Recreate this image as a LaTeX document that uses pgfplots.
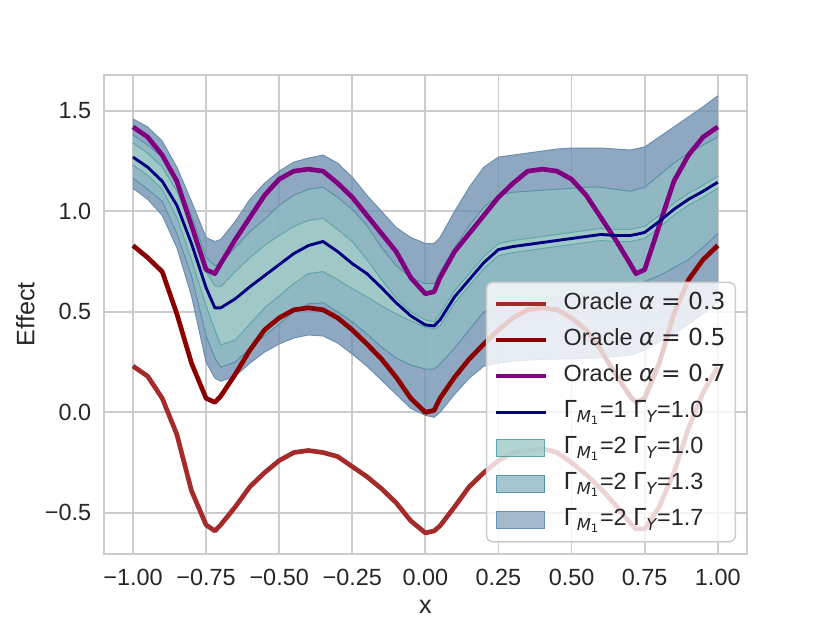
\documentclass[border=0pt]{standalone}
\usepackage{fontspec}
\setmainfont{Liberation Sans}
\newfontfamily\dejavu{DejaVu Sans}
\usepackage{pgfplots}
\usepackage{pgfplotstable}
\pgfplotsset{compat=1.18}
\usepgfplotslibrary{fillbetween}

\definecolor{o3c}{HTML}{A52A2A}
\definecolor{o5c}{HTML}{8B0000}
\definecolor{o7c}{HTML}{800080}
\definecolor{muc}{HTML}{000080}
\definecolor{gridc}{HTML}{CCCCCC}
\definecolor{txt}{HTML}{262626}
\definecolor{outf}{HTML}{7392B2}
\definecolor{midf}{HTML}{90BDC5}
\definecolor{innf}{HTML}{A4CDC9}
\definecolor{outl}{HTML}{8FA8C1}
\definecolor{midl}{HTML}{90B9C4}
\definecolor{innl}{HTML}{A0C9C8}
\definecolor{oute}{HTML}{6A8FB2}
\definecolor{mide}{HTML}{5792A8}
\definecolor{inne}{HTML}{5FA6AA}

\pgfplotsset{
  lineleg/.style={legend image code/.code={\draw[##1] (0pt,0pt) -- (27.5pt,0pt);}},
  patchleg/.style={legend image code/.code={\draw[##1, sharp corners] (0pt,-4.7pt) rectangle (27pt,4.7pt);}},
}

\pgfplotstableread{
x o3 o5 o7 mu
-1.00 0.23 0.83 1.42 1.27
-0.95 0.18 0.77 1.37 1.22
-0.90 0.07 0.70 1.28 1.15
-0.85 -0.11 0.49 1.15 1.03
-0.80 -0.39 0.245 0.93 0.84
-0.75 -0.56 0.07 0.71 0.62
-0.72 -0.59 0.05 0.69 0.52
-0.70 -0.56 0.08 0.74 0.52
-0.65 -0.47 0.19 0.86 0.565
-0.60 -0.37 0.31 0.97 0.625
-0.55 -0.30 0.41 1.08 0.68
-0.50 -0.24 0.47 1.16 0.735
-0.45 -0.20 0.51 1.20 0.79
-0.40 -0.19 0.52 1.21 0.83
-0.35 -0.20 0.51 1.20 0.85
-0.30 -0.22 0.47 1.14 0.80
-0.25 -0.27 0.41 1.07 0.74
-0.20 -0.32 0.34 0.98 0.69
-0.15 -0.38 0.265 0.89 0.62
-0.10 -0.45 0.175 0.80 0.545
-0.05 -0.54 0.07 0.67 0.48
0.00 -0.60 0.00 0.59 0.435
0.03 -0.59 0.01 0.60 0.43
0.05 -0.565 0.07 0.67 0.46
0.10 -0.47 0.175 0.80 0.575
0.15 -0.37 0.265 0.89 0.66
0.20 -0.30 0.34 0.98 0.745
0.25 -0.24 0.41 1.07 0.81
0.30 -0.20 0.47 1.14 0.825
0.35 -0.19 0.51 1.20 0.835
0.40 -0.18 0.52 1.21 0.845
0.45 -0.20 0.51 1.20 0.855
0.50 -0.25 0.47 1.16 0.865
0.55 -0.31 0.41 1.08 0.875
0.60 -0.38 0.31 0.97 0.885
0.65 -0.46 0.19 0.86 0.88
0.70 -0.55 0.08 0.74 0.88
0.72 -0.58 0.05 0.69 0.885
0.75 -0.58 0.07 0.71 0.895
0.80 -0.47 0.245 0.93 0.95
0.85 -0.30 0.49 1.15 1.01
0.90 -0.08 0.66 1.28 1.06
0.95 0.10 0.76 1.37 1.10
1.00 0.225 0.83 1.42 1.145
}\oracle

\pgfplotstableread{
x ol ml il ih mh oh
-1.00 1.115 1.165 1.23 1.34 1.38 1.46
-0.95 1.06 1.11 1.18 1.29 1.33 1.42
-0.90 0.98 1.05 1.11 1.22 1.27 1.35
-0.85 0.82 0.89 0.97 1.10 1.14 1.22
-0.80 0.58 0.68 0.76 0.925 0.98 1.05
-0.75 0.25 0.38 0.53 0.70 0.77 0.87
-0.72 0.17 0.27 0.41 0.63 0.73 0.85
-0.70 0.155 0.225 0.335 0.625 0.74 0.86
-0.65 0.18 0.25 0.36 0.70 0.82 0.95
-0.60 0.245 0.32 0.44 0.77 0.90 1.06
-0.55 0.30 0.38 0.52 0.83 0.96 1.14
-0.50 0.34 0.44 0.58 0.88 1.03 1.20
-0.45 0.37 0.50 0.64 0.925 1.08 1.245
-0.40 0.385 0.54 0.69 0.955 1.11 1.265
-0.35 0.38 0.545 0.70 0.965 1.12 1.28
-0.30 0.345 0.50 0.66 0.91 1.07 1.24
-0.25 0.29 0.45 0.615 0.85 1.01 1.17
-0.20 0.23 0.39 0.575 0.76 0.93 1.08
-0.15 0.16 0.325 0.53 0.66 0.82 1.00
-0.10 0.09 0.27 0.49 0.57 0.73 0.92
-0.05 0.02 0.235 0.455 0.50 0.67 0.87
0.00 -0.015 0.215 0.425 0.46 0.64 0.84
0.03 -0.025 0.215 0.415 0.45 0.64 0.84
0.05 0.0 0.24 0.43 0.49 0.70 0.87
0.10 0.09 0.32 0.545 0.605 0.82 1.00
0.15 0.17 0.41 0.63 0.69 0.93 1.12
0.20 0.23 0.50 0.715 0.775 1.02 1.22
0.25 0.245 0.53 0.78 0.84 1.08 1.27
0.30 0.255 0.545 0.795 0.855 1.095 1.28
0.35 0.26 0.555 0.805 0.865 1.10 1.29
0.40 0.263 0.565 0.815 0.875 1.105 1.30
0.45 0.265 0.57 0.825 0.885 1.11 1.31
0.50 0.267 0.575 0.835 0.895 1.115 1.315
0.55 0.268 0.585 0.845 0.905 1.12 1.315
0.60 0.272 0.60 0.855 0.915 1.12 1.315
0.65 0.278 0.61 0.85 0.91 1.11 1.31
0.70 0.285 0.62 0.85 0.91 1.10 1.305
0.75 0.31 0.65 0.865 0.925 1.12 1.32
0.80 0.35 0.68 0.92 0.98 1.18 1.37
0.85 0.39 0.72 0.98 1.04 1.24 1.42
0.90 0.44 0.76 1.03 1.09 1.29 1.47
0.95 0.49 0.82 1.07 1.13 1.33 1.52
1.00 0.55 0.89 1.115 1.175 1.37 1.575
}\bands

\begin{document}
\begin{tikzpicture}
\begin{axis}[
  name=ax,
  width=357.12pt, height=266.11pt, scale only axis,
  xmin=-1.1, xmax=1.1, ymin=-0.705, ymax=1.68,
  axis line style={gridc, line width=1.25pt},
  grid=major, major grid style={gridc, line width=1pt},
  major tick length=0pt, tick style={draw=none},
  xtick={-1,-0.75,-0.5,-0.25,0,0.25,0.5,0.75,1},
  xticklabels={−1.00,−0.75,−0.50,−0.25,0.00,0.25,0.50,0.75,1.00},
  ytick={-0.5,0,0.5,1,1.5},
  yticklabels={−0.5,0.0,0.5,1.0,1.5},
  ticklabel style={font=\fontsize{13}{13}\selectfont, text=txt},
  xticklabel style={yshift=-4.6pt},
  yticklabel style={xshift=-3.5pt},
  xlabel={x}, ylabel={Effect},
  every axis x label/.style={at={(axis description cs:0.5,0)}, anchor=center, yshift=-29.5pt,
    font=\fontsize{14}{14}\selectfont, text=txt},
  every axis y label/.style={at={([xshift=-43.5pt]axis description cs:0,0.5)}, anchor=center, rotate=90,
    font=\fontsize{14}{14}\selectfont, text=txt},
  legend style={at={(0.983,0.024)}, anchor=south east, draw=gridc, fill=white,
    fill opacity=0.8, text opacity=1, rounded corners=3pt, line width=0.8pt,
    font=\fontsize{13}{13}\selectfont, text=txt, inner sep=4pt, row sep=4.0pt,
    nodes={text height=9.5pt, text depth=3.5pt, inner sep=1.5pt},
    cells={anchor=west},
    /tikz/every odd column/.append style={column sep=7.2pt}},
]
% named paths
\addplot[draw=none, name path=OH, forget plot] table[x=x, y=oh]{\bands};
\addplot[draw=none, name path=OL, forget plot] table[x=x, y=ol]{\bands};
\addplot[draw=none, name path=MH, forget plot] table[x=x, y=mh]{\bands};
\addplot[draw=none, name path=ML, forget plot] table[x=x, y=ml]{\bands};
\addplot[draw=none, name path=IH, forget plot] table[x=x, y=ih]{\bands};
\addplot[draw=none, name path=IL, forget plot] table[x=x, y=il]{\bands};
% outer band
\addplot[fill=outf, fill opacity=0.8, draw=none, forget plot] fill between[of=OH and OL];
\addplot[oute, line width=0.55pt, forget plot] table[x=x, y=oh]{\bands};
\addplot[oute, line width=0.55pt, forget plot] table[x=x, y=ol]{\bands};
% mid band
\addplot[fill=midf, fill opacity=0.8, draw=none, forget plot] fill between[of=MH and ML];
\addplot[mide, line width=0.55pt, forget plot] table[x=x, y=mh]{\bands};
\addplot[mide, line width=0.55pt, forget plot] table[x=x, y=ml]{\bands};
% inner band
\addplot[fill=innf, fill opacity=0.8, draw=none, forget plot] fill between[of=IH and IL];
\addplot[inne, line width=0.55pt, forget plot] table[x=x, y=ih]{\bands};
\addplot[inne, line width=0.55pt, forget plot] table[x=x, y=il]{\bands};
% oracle lines
\addplot[o3c, line width=2.6pt, line join=round, forget plot] table[x=x, y=o3]{\oracle};
\addplot[o5c, line width=2.6pt, line join=round, forget plot] table[x=x, y=o5]{\oracle};
\addplot[o7c, line width=2.6pt, line join=round, forget plot] table[x=x, y=o7]{\oracle};
\addplot[muc, line width=1.6pt, line join=round, forget plot] table[x=x, y=mu]{\oracle};
% legend
\addlegendimage{lineleg, o3c, line width=2.6pt}
\addlegendentry{Oracle {\dejavu\itshape α} {\dejavu = 0.3}}
\addlegendimage{lineleg, o5c, line width=2.6pt}
\addlegendentry{Oracle {\dejavu\itshape α} {\dejavu = 0.5}}
\addlegendimage{lineleg, o7c, line width=2.6pt}
\addlegendentry{Oracle {\dejavu\itshape α} {\dejavu = 0.7}}
\addlegendimage{lineleg, muc, line width=1.6pt}
\addlegendentry{{\dejavu Γ}\textsubscript{\dejavu\itshape M\textsubscript{\upshape 1}}=1 {\dejavu Γ}\textsubscript{\dejavu\itshape Y}=1.0}
\addlegendimage{patchleg, fill=innl, draw=inne, line width=0.6pt}
\addlegendentry{{\dejavu Γ}\textsubscript{\dejavu\itshape M\textsubscript{\upshape 1}}=2 {\dejavu Γ}\textsubscript{\dejavu\itshape Y}=1.0}
\addlegendimage{patchleg, fill=midl, draw=mide, line width=0.6pt}
\addlegendentry{{\dejavu Γ}\textsubscript{\dejavu\itshape M\textsubscript{\upshape 1}}=2 {\dejavu Γ}\textsubscript{\dejavu\itshape Y}=1.3}
\addlegendimage{patchleg, fill=outl, draw=oute, line width=0.6pt}
\addlegendentry{{\dejavu Γ}\textsubscript{\dejavu\itshape M\textsubscript{\upshape 1}}=2 {\dejavu Γ}\textsubscript{\dejavu\itshape Y}=1.7}
\end{axis}
\pgfresetboundingbox
\path ([shift={(-57.6pt,-38.02pt)}]ax.south west) rectangle ++(460.8pt,345.6pt);
\end{tikzpicture}
\end{document}
